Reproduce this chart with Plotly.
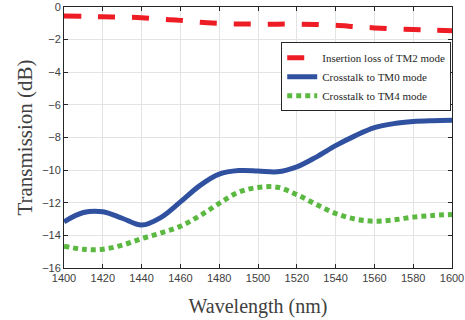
import plotly.graph_objects as go

wavelength = [1400, 1410, 1420, 1430, 1440, 1450, 1460, 1470, 1480, 1490, 1500,
              1510, 1520, 1530, 1540, 1550, 1560, 1570, 1580, 1590, 1600]
insertion_tm2 = [-0.55, -0.57, -0.6, -0.62, -0.66, -0.75, -0.82, -0.93, -1.0, -1.04, -1.05,
                 -1.05, -1.05, -1.07, -1.12, -1.2, -1.28, -1.34, -1.38, -1.42, -1.46]
crosstalk_tm0 = [-13.17, -12.6, -12.55, -12.95, -13.37, -12.9, -11.95, -10.95, -10.25, -10.03, -10.05,
                 -10.1, -9.8, -9.2, -8.5, -7.9, -7.4, -7.15, -7.02, -6.97, -6.95]
crosstalk_tm4 = [-14.66, -14.85, -14.85, -14.6, -14.2, -13.85, -13.44, -12.8, -12.04, -11.35, -11.06,
                 -11.05, -11.5, -12.1, -12.66, -13.0, -13.13, -13.05, -12.88, -12.78, -12.72]
legend_names = ["Insertion loss of TM2 mode", "Crosstalk to TM0 mode", "Crosstalk to TM4 mode"]
x_ticks = [1400, 1420, 1440, 1460, 1480, 1500, 1520, 1540, 1560, 1580, 1600]
y_ticks = [0, -2, -4, -6, -8, -10, -12, -14, -16]

fig = go.Figure()
fig.add_trace(go.Scatter(x=wavelength, y=insertion_tm2, mode="lines", name=legend_names[0],
                         line=dict(color="#ee1c25", width=5, dash="17px,17px", shape="spline")))
fig.add_trace(go.Scatter(x=wavelength, y=crosstalk_tm0, mode="lines", name=legend_names[1],
                         line=dict(color="#3050a0", width=5, shape="spline")))
fig.add_trace(go.Scatter(x=wavelength, y=crosstalk_tm4, mode="lines", name=legend_names[2],
                         line=dict(color="#5bb840", width=5, dash="5px,4px", shape="spline")))

axis_common = dict(showline=True, linecolor="#262626", linewidth=1, mirror="ticks",
                   ticks="inside", ticklen=4, tickcolor="#262626", automargin=False,
                   showgrid=True, gridcolor="#e3e3e3", gridwidth=1, zeroline=False,
                   tickfont=dict(family="Liberation Sans, Arial", size=11, color="#404040"))

fig.update_layout(
    width=465, height=320,
    margin=dict(l=64, r=13, t=7, b=52),
    paper_bgcolor="white", plot_bgcolor="white",
    xaxis=dict(range=[1400, 1600], tickvals=x_ticks, **axis_common,
               title=dict(text="Wavelength (nm)", standoff=15,
                          font=dict(family="Liberation Serif, Times New Roman", size=20, color="#404040"))),
    yaxis=dict(range=[-16, 0], tickvals=y_ticks, **axis_common,
               title=dict(text="Transmission (dB)", standoff=3,
                          font=dict(family="Liberation Serif, Times New Roman", size=21, color="#404040"))),
    legend=dict(x=0.998, y=0.865, xanchor="right", yanchor="top",
                bgcolor="white", bordercolor="#262626", borderwidth=1,
                font=dict(family="Liberation Serif, Times New Roman", size=11, color="#262626"),
                tracegroupgap=0, itemwidth=30),
    showlegend=True,
)

fig.write_html("out.html", config={"displayModeBar": False},
               post_script="document.body.style.margin='0px';")
